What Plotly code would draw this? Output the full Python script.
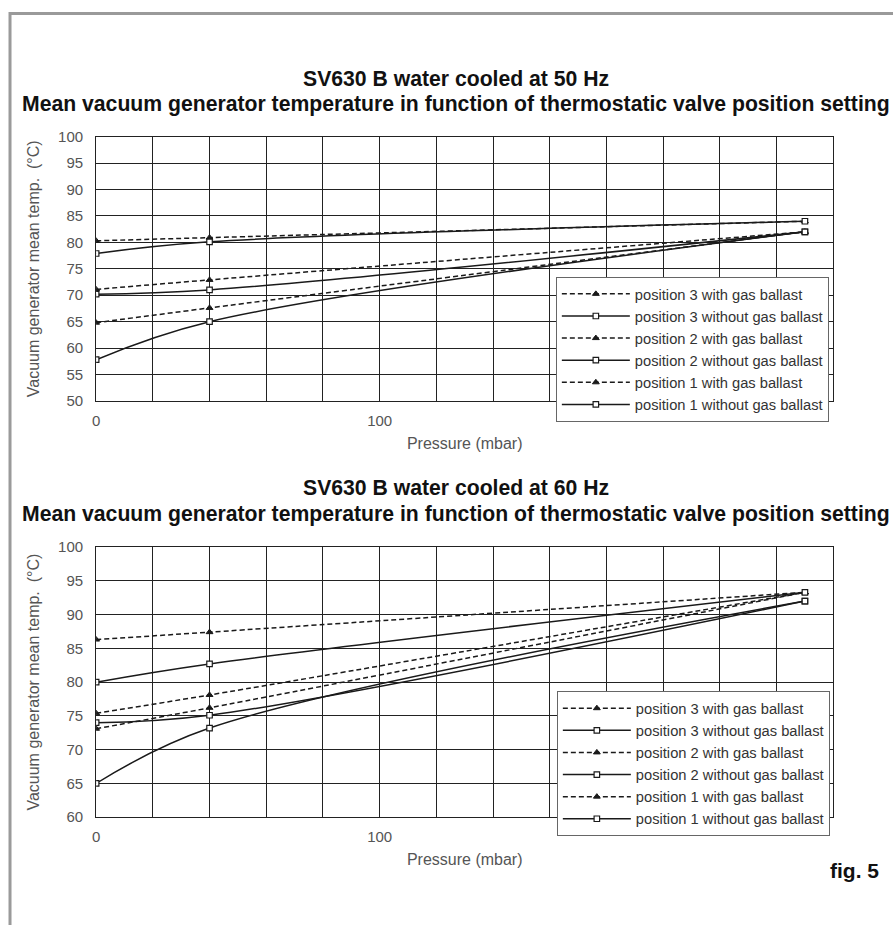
import plotly.graph_objects as go

# ---------------- data ----------------
pressure = [0, 40, 250]

series_names = [
    "position 3 with gas ballast",
    "position 3 without gas ballast",
    "position 2 with gas ballast",
    "position 2 without gas ballast",
    "position 1 with gas ballast",
    "position 1 without gas ballast",
]

# 50 Hz
t50_p3_with = [80.3, 80.9, 84.0]
t50_p3_without = [77.9, 80.1, 84.0]
t50_p2_with = [71.1, 72.9, 82.0]
t50_p2_without = [70.2, 71.0, 82.0]
t50_p1_with = [64.8, 67.6, 82.0]
t50_p1_without = [57.8, 65.0, 82.0]

# 60 Hz
t60_p3_with = [86.3, 87.4, 93.3]
t60_p3_without = [80.0, 82.7, 93.3]
t60_p2_with = [75.4, 78.1, 93.3]
t60_p2_without = [74.0, 75.1, 92.0]
t60_p1_with = [73.1, 76.2, 93.3]
t60_p1_without = [65.0, 73.2, 92.0]

x_tick_vals = [0, 100]
y_range_50 = [50, 100]
y_range_60 = [60, 100]

title_50_l1 = "SV630 B water cooled at 50 Hz"
title_60_l1 = "SV630 B water cooled at 60 Hz"
title_l2 = "Mean vacuum generator temperature in function of thermostatic valve position setting"
x_title = "Pressure (mbar)"
y_title = "Vacuum generator mean temp.  (°C)"

# ---------------- layout helpers ----------------
W, H = 893, 933
SX, OX = 0.994, 3.0
SY, OY = 0.981, 8.4
def px(x):
    return ((x - OX) / SX) / W
def py(y):
    return 1 - ((y - OY) / SY) / H

LINE = "#1a1a1a"
GRID = "#222222"
FONT = "Liberation Sans, Arial, sans-serif"

fig = go.Figure()

data50 = [t50_p3_with, t50_p3_without, t50_p2_with, t50_p2_without, t50_p1_with, t50_p1_without]
data60 = [t60_p3_with, t60_p3_without, t60_p2_with, t60_p2_without, t60_p1_with, t60_p1_without]

def style(i):
    with_gas = (i % 2 == 0)
    line = dict(color=LINE, width=1.5, shape="spline", smoothing=1.0,
                dash="5px,3px" if with_gas else "solid")
    if with_gas:
        marker = dict(symbol="triangle-up", size=6, color=LINE,
                      line=dict(color=LINE, width=1))
    else:
        marker = dict(symbol="square", size=5.5, color="white",
                      line=dict(color=LINE, width=1.2))
    return line, marker

# draw "with gas ballast" series first so the square markers sit on top,
# while legendrank keeps the legend order of the original
draw_order = [0, 2, 4, 1, 3, 5]
for data, xa, ya, lg in [(data50, "x", "y", "legend"), (data60, "x2", "y2", "legend2")]:
    for i in draw_order:
        line, marker = style(i)
        fig.add_trace(go.Scatter(x=pressure, y=data[i], name=series_names[i],
                                 mode="lines+markers", line=line, marker=marker,
                                 xaxis=xa, yaxis=ya, legend=lg, legendrank=100 + i))

def xaxis(anchor):
    return dict(
        domain=[px(95), px(831)], anchor=anchor, range=[0, 260],
        tickmode="array", tickvals=x_tick_vals, ticks="",
        ticklabelstandoff=6,
        showgrid=True, gridcolor=GRID, gridwidth=1,
        minor=dict(dtick=20, tick0=0, showgrid=True, gridcolor=GRID, gridwidth=1, ticks=""),
        showline=True, linecolor=GRID, linewidth=1, mirror=True,
        zeroline=False,
        tickfont=dict(family=FONT, size=15, color="#555"),
        title=dict(text=x_title, font=dict(family=FONT, size=16, color="#555"), standoff=9),
    )

def yaxis(anchor, top, bottom, rng):
    return dict(
        domain=[py(bottom), py(top)], anchor=anchor, range=rng,
        dtick=5, tick0=0, ticks="", ticklabelstandoff=9,
        showgrid=True, gridcolor=GRID, gridwidth=1,
        showline=True, linecolor=GRID, linewidth=1, mirror=True,
        zeroline=False,
        tickfont=dict(family=FONT, size=15, color="#555"),
        title=dict(text=y_title, font=dict(family=FONT, size=16, color="#555"), standoff=14),
    )

legend_common = dict(
    xanchor="left", yanchor="top", bgcolor="white",
    bordercolor="#666", borderwidth=1,
    font=dict(family=FONT, size=14.7, color="#333"),
    itemwidth=68, traceorder="normal",
)

fig.update_layout(
    width=W, height=H,
    margin=dict(l=0, r=0, t=0, b=0),
    paper_bgcolor="white", plot_bgcolor="white",
    xaxis=xaxis("y"),
    yaxis=yaxis("x", 136, 400, y_range_50),
    xaxis2=xaxis("y2"),
    yaxis2=yaxis("x2", 546, 816, y_range_60),
    legend=dict(x=px(554), y=py(276), **legend_common),
    legend2=dict(x=px(555), y=py(690), **legend_common),
    showlegend=True,
)

title_font = dict(family=FONT, size=21.2, color="#111")
ann = []
for y1, y2, t1 in [(78, 103, title_50_l1), (487, 513, title_60_l1)]:
    ann.append(dict(text="<b>%s</b>" % t1, x=px(454), y=py(y1), xref="paper", yref="paper",
                    xanchor="center", yanchor="middle", showarrow=False, font=title_font))
    ann.append(dict(text="<b>%s</b>" % title_l2, x=px(454), y=py(y2), xref="paper", yref="paper",
                    xanchor="center", yanchor="middle", showarrow=False, font=title_font))
ann.append(dict(text="<b>fig. 5</b>", x=px(879), y=py(869), xref="paper", yref="paper",
                xanchor="right", yanchor="middle", showarrow=False,
                font=dict(family=FONT, size=21, color="#111")))
fig.update_layout(annotations=ann)

# page frame
fig.add_shape(type="path", xref="paper", yref="paper",
              path="M %f,%f L %f,%f L %f,%f" % (px(9), 0, px(9), py(13), 1, py(13)),
              line=dict(color="#9a9a9a", width=3))

fig.write_html("out.html", config={"displayModeBar": False},
               post_script="document.body.style.margin='0px';document.body.style.overflow='hidden';")
